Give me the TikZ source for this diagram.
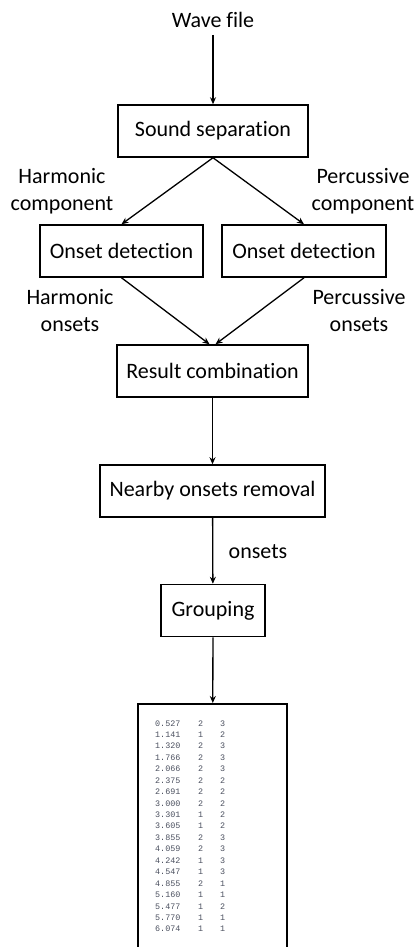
\documentclass[tikz,border=0pt]{standalone}
\usepackage{fontspec}
\setmainfont{Carlito}[Ligatures=NoCommon]
\newfontfamily\tablefont{Liberation Mono}
\usetikzlibrary{arrows.meta}
\definecolor{tablegray}{RGB}{75,80,95}
\tikzset{
  stepbox/.style={draw, line width=1.5pt, minimum height=52pt, inner sep=0pt,
    font=\fontsize{22}{27}\selectfont},
  flow/.style={line width=1.3pt, -{Stealth[length=7pt,width=6pt]}},
  lbl/.style={align=center, inner sep=0pt, font=\fontsize{22}{27}\selectfont},
  cell/.style={anchor=base west, inner sep=0pt, text=tablegray,
    font=\tablefont\fontsize{8.4}{10}\selectfont}
}
\begin{document}
\begin{tikzpicture}[x=1pt,y=-1pt]
  \useasboundingbox (0,0) rectangle (417,947);
  \clip (0,0) rectangle (417,947);
  % boxes
  \node[lbl] (wave) at (213,20) {Wave file};
  \node[stepbox, minimum width=190pt] (sep) at (213,131) {Sound separation};
  \node[stepbox, minimum width=163pt] (onsetL) at (121.5,251) {Onset detection};
  \node[stepbox, minimum width=164pt] (onsetR) at (304,251) {Onset detection};
  \node[stepbox, minimum width=191pt] (comb) at (212.5,371) {Result combination};
  \node[stepbox, minimum width=225pt] (removal) at (212.5,491) {Nearby onsets removal};
  \node[stepbox, minimum width=104pt] (group) at (213,610.5) {Grouping};
  \node[draw, line width=1.5pt, minimum width=149pt, minimum height=270pt,
    anchor=north] (result) at (212.5,703) {};
  % labels
  \node[lbl] (harmc) at (62,191) {Harmonic\\component};
  \node[lbl] (percc) at (363,191) {Percussive\\component};
  \node[lbl] (harmo) at (70,311) {Harmonic\\onsets};
  \node[lbl] (perco) at (359,311) {Percussive\\onsets};
  \node[lbl] (ons) at (258,552) {onsets};
  % arrows
  \draw[flow, shorten <=7pt] (wave) -- (sep);
  \draw[flow] (sep.south) -- (onsetL.north);
  \draw[flow] (sep.south) -- (onsetR.north);
  \draw[flow] (onsetL.south) -- ([xshift=-3pt]comb.north);
  \draw[flow] (onsetR.south) -- ([xshift=3pt]comb.north);
  \draw[flow] (comb) -- (removal);
  \draw[flow] (removal) -- (group);
  \draw[flow] (group) -- (result);
  % table
  \foreach \t/\a/\b [count=\i from 0] in {0.527/2/3,1.141/1/2,1.320/2/3,1.766/2/3,
      2.066/2/3,2.375/2/2,2.691/2/2,3.000/2/2,3.301/1/2,3.605/1/2,3.855/2/3,
      4.059/2/3,4.242/1/3,4.547/1/3,4.855/2/1,5.160/1/1,5.477/1/2,5.770/1/1,6.074/1/1}{
    \node[cell] (t\i) at (155,726+11.44*\i) {\t};
    \node[cell] (a\i) at (198,726+11.44*\i) {\a};
    \node[cell] (b\i) at (220,726+11.44*\i) {\b};
  }
\end{tikzpicture}
\end{document}
